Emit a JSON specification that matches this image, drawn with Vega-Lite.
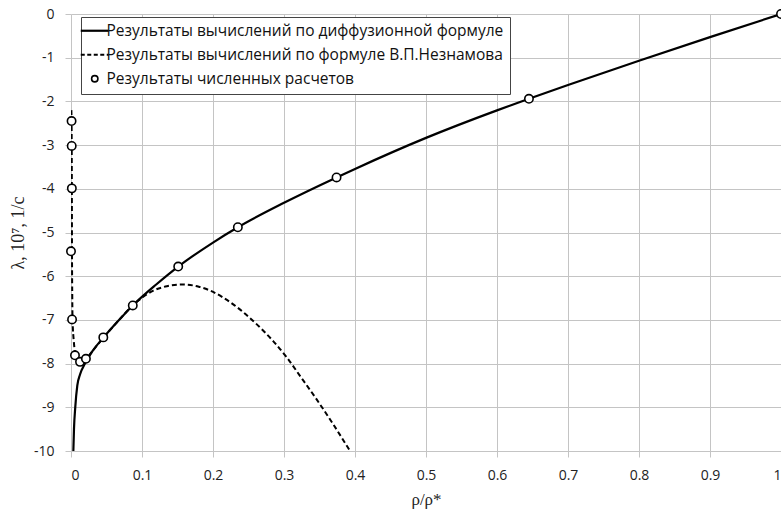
{
  "$schema": "https://vega.github.io/schema/vega-lite/v6.json",
  "width": 710,
  "height": 437,
  "autosize": {"type": "none"},
  "padding": {"left": 71, "top": 14, "right": 0, "bottom": 65},
  "background": "white",
  "config": {
    "view": {"stroke": null},
    "axis": {
      "grid": true,
      "gridColor": "#c4c4c4",
      "gridWidth": 1,
      "domain": false,
      "ticks": true,
      "tickColor": "#c4c4c4",
      "tickSize": 6,
      "labelFont": "Open Sans",
      "labelFontSize": 14,
      "labelColor": "#222",
      "titleFont": "Liberation Serif",
      "titleFontWeight": "normal",
      "titleColor": "#222"
    }
  },
  "datasets": {
    "diff": [
      {"series": "Результаты вычислений по диффузионной формуле", "x": 0.0033, "y": -10},
      {"series": "Результаты вычислений по диффузионной формуле", "x": 0.0042, "y": -9.5},
      {"series": "Результаты вычислений по диффузионной формуле", "x": 0.006, "y": -9.0},
      {"series": "Результаты вычислений по диффузионной формуле", "x": 0.0089, "y": -8.5},
      {"series": "Результаты вычислений по диффузионной формуле", "x": 0.0127, "y": -8.25},
      {"series": "Результаты вычислений по диффузионной формуле", "x": 0.0197, "y": -8.0},
      {"series": "Результаты вычислений по диффузионной формуле", "x": 0.03, "y": -7.72},
      {"series": "Результаты вычислений по диффузионной формуле", "x": 0.046, "y": -7.4},
      {"series": "Результаты вычислений по диффузионной формуле", "x": 0.065, "y": -7.05},
      {"series": "Результаты вычислений по диффузионной формуле", "x": 0.087, "y": -6.67},
      {"series": "Результаты вычислений по диффузионной формуле", "x": 0.12, "y": -6.19},
      {"series": "Результаты вычислений по диффузионной формуле", "x": 0.151, "y": -5.78},
      {"series": "Результаты вычислений по диффузионной формуле", "x": 0.2, "y": -5.23},
      {"series": "Результаты вычислений по диффузионной формуле", "x": 0.235, "y": -4.88},
      {"series": "Результаты вычислений по диффузионной формуле", "x": 0.3, "y": -4.32},
      {"series": "Результаты вычислений по диффузионной формуле", "x": 0.374, "y": -3.74},
      {"series": "Результаты вычислений по диффузионной формуле", "x": 0.4, "y": -3.545},
      {"series": "Результаты вычислений по диффузионной формуле", "x": 0.5, "y": -2.835},
      {"series": "Результаты вычислений по диффузионной формуле", "x": 0.6, "y": -2.205},
      {"series": "Результаты вычислений по диффузионной формуле", "x": 0.645, "y": -1.94},
      {"series": "Результаты вычислений по диффузионной формуле", "x": 0.7, "y": -1.626},
      {"series": "Результаты вычислений по диффузионной формуле", "x": 0.8, "y": -1.07},
      {"series": "Результаты вычислений по диффузионной формуле", "x": 0.9, "y": -0.53},
      {"series": "Результаты вычислений по диффузионной формуле", "x": 1.0, "y": 0}
    ],
    "nez": [
      {"series": "Результаты вычислений по формуле В.П.Незнамова", "x": 0.0005, "y": -2.2},
      {"series": "Результаты вычислений по формуле В.П.Незнамова", "x": 0.0008, "y": -2.45},
      {"series": "Результаты вычислений по формуле В.П.Незнамова", "x": 0.001, "y": -3.0},
      {"series": "Результаты вычислений по формуле В.П.Незнамова", "x": 0.0012, "y": -4.0},
      {"series": "Результаты вычислений по формуле В.П.Незнамова", "x": 0.0014, "y": -5.4},
      {"series": "Результаты вычислений по формуле В.П.Незнамова", "x": 0.0018, "y": -6.5},
      {"series": "Результаты вычислений по формуле В.П.Незнамова", "x": 0.0022, "y": -7.0},
      {"series": "Результаты вычислений по формуле В.П.Незнамова", "x": 0.004, "y": -7.5},
      {"series": "Результаты вычислений по формуле В.П.Незнамова", "x": 0.0065, "y": -7.8},
      {"series": "Результаты вычислений по формуле В.П.Незнамова", "x": 0.01, "y": -7.93},
      {"series": "Результаты вычислений по формуле В.П.Незнамова", "x": 0.013, "y": -7.96},
      {"series": "Результаты вычислений по формуле В.П.Незнамова", "x": 0.017, "y": -7.94},
      {"series": "Результаты вычислений по формуле В.П.Незнамова", "x": 0.021, "y": -7.89},
      {"series": "Результаты вычислений по формуле В.П.Незнамова", "x": 0.03, "y": -7.72},
      {"series": "Результаты вычислений по формуле В.П.Незнамова", "x": 0.046, "y": -7.4},
      {"series": "Результаты вычислений по формуле В.П.Незнамова", "x": 0.065, "y": -7.05},
      {"series": "Результаты вычислений по формуле В.П.Незнамова", "x": 0.087, "y": -6.67},
      {"series": "Результаты вычислений по формуле В.П.Незнамова", "x": 0.097, "y": -6.53},
      {"series": "Результаты вычислений по формуле В.П.Незнамова", "x": 0.116, "y": -6.33},
      {"series": "Результаты вычислений по формуле В.П.Незнамова", "x": 0.135, "y": -6.23},
      {"series": "Результаты вычислений по формуле В.П.Незнамова", "x": 0.158, "y": -6.19},
      {"series": "Результаты вычислений по формуле В.П.Незнамова", "x": 0.18, "y": -6.24},
      {"series": "Результаты вычислений по формуле В.П.Незнамова", "x": 0.196, "y": -6.33},
      {"series": "Результаты вычислений по формуле В.П.Незнамова", "x": 0.229, "y": -6.65},
      {"series": "Результаты вычислений по формуле В.П.Незнамова", "x": 0.257, "y": -7.03},
      {"series": "Результаты вычислений по формуле В.П.Незнамова", "x": 0.285, "y": -7.49},
      {"series": "Результаты вычислений по формуле В.П.Незнамова", "x": 0.304, "y": -7.86},
      {"series": "Результаты вычислений по формуле В.П.Незнамова", "x": 0.3225, "y": -8.28},
      {"series": "Результаты вычислений по формуле В.П.Незнамова", "x": 0.346, "y": -8.82},
      {"series": "Результаты вычислений по формуле В.П.Незнамова", "x": 0.369, "y": -9.38},
      {"series": "Результаты вычислений по формуле В.П.Незнамова", "x": 0.393, "y": -10.0}
    ],
    "pts": [
      {"series": "Результаты численных расчетов", "x": 0.0008, "y": -2.45},
      {"series": "Результаты численных расчетов", "x": 0.001, "y": -3.02},
      {"series": "Результаты численных расчетов", "x": 0.0012, "y": -3.99},
      {"series": "Результаты численных расчетов", "x": 0.0, "y": -5.43},
      {"series": "Результаты численных расчетов", "x": 0.0015, "y": -6.99},
      {"series": "Результаты численных расчетов", "x": 0.0056, "y": -7.81},
      {"series": "Результаты численных расчетов", "x": 0.0127, "y": -7.96},
      {"series": "Результаты численных расчетов", "x": 0.021, "y": -7.89},
      {"series": "Результаты численных расчетов", "x": 0.0455, "y": -7.4},
      {"series": "Результаты численных расчетов", "x": 0.087, "y": -6.67},
      {"series": "Результаты численных расчетов", "x": 0.151, "y": -5.78},
      {"series": "Результаты численных расчетов", "x": 0.235, "y": -4.88},
      {"series": "Результаты численных расчетов", "x": 0.374, "y": -3.74},
      {"series": "Результаты численных расчетов", "x": 0.645, "y": -1.94},
      {"series": "Результаты численных расчетов", "x": 1.0, "y": 0}
    ]
  },
  "encoding": {
    "x": {
      "field": "x",
      "type": "quantitative",
      "scale": {"domain": [0, 1], "nice": false, "zero": false},
      "axis": {
        "values": [0, 0.1, 0.2, 0.3, 0.4, 0.5, 0.6, 0.7, 0.8, 0.9, 1],
        "labelExpr": "datum.value + ''",
        "labelPadding": 11,
        "title": "ρ/ρ*",
        "titleFontSize": 17,
        "titlePadding": 9
      }
    },
    "y": {
      "field": "y",
      "type": "quantitative",
      "scale": {"domain": [-10, 0], "nice": false, "zero": false},
      "axis": {
        "values": [-10, -9, -8, -7, -6, -5, -4, -3, -2, -1, 0],
        "labelExpr": "datum.value + ''",
        "labelPadding": 11,
        "title": "λ, 10⁷, 1/c",
        "titleFontSize": 18,
        "titlePadding": 6
      }
    },
    "color": {
      "field": "series",
      "type": "nominal",
      "scale": {
        "domain": [
          "Результаты вычислений по диффузионной формуле",
          "Результаты вычислений по формуле В.П.Незнамова",
          "Результаты численных расчетов"
        ],
        "range": ["black", "black", "black"]
      },
      "legend": {
        "title": null,
        "orient": "none",
        "legendX": 10,
        "legendY": 3,
        "direction": "vertical",
        "fillColor": "white",
        "strokeColor": "#444",
        "padding": 6,
        "rowPadding": 7,
        "labelFont": "Open Sans",
        "labelFontSize": 15.5,
        "labelColor": "#111",
        "labelOffset": 4,
        "labelLimit": 0,
        "symbolSize": 784,
        "encode": {
          "symbols": {
            "update": {
              "shape": {"signal": "datum.value === 'Результаты численных расчетов' ? 'circle' : 'stroke'"},
              "size": {"signal": "datum.value === 'Результаты численных расчетов' ? 40 : 784"},
              "strokeDash": {"signal": "datum.value === 'Результаты вычислений по формуле В.П.Незнамова' ? [4, 2.5] : []"},
              "strokeWidth": {"signal": "datum.value === 'Результаты численных расчетов' ? 1.6 : 2.2"},
              "fill": {"value": "white"},
              "stroke": {"value": "black"}
            }
          }
        }
      }
    }
  },
  "layer": [
    {
      "data": {"name": "diff"},
      "mark": {"type": "line", "interpolate": "monotone", "strokeWidth": 2.2, "clip": true}
    },
    {
      "data": {"name": "nez"},
      "mark": {"type": "line", "interpolate": "monotone", "strokeWidth": 2, "strokeDash": [5, 3], "clip": true}
    },
    {
      "data": {"name": "pts"},
      "mark": {"type": "point", "filled": false, "fill": "white", "fillOpacity": 1, "strokeWidth": 1.6, "size": 70, "opacity": 1}
    }
  ]
}
